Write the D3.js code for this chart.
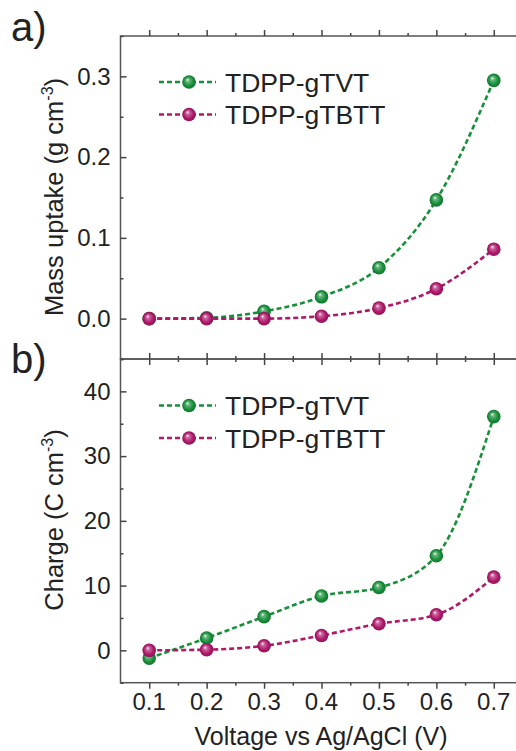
<!DOCTYPE html>
<html>
<head>
<meta charset="utf-8">
<script src="https://cdn.jsdelivr.net/npm/d3@7"></script>
<style>
  body { margin: 0; background: #fff; }
  text { font-family: "Liberation Sans", Arial, sans-serif; fill: #222; }
</style>
</head>
<body>
<div id="chart"></div>
<script>
const voltage = [0.1, 0.2, 0.3, 0.4, 0.5, 0.6, 0.7];
const seriesNames = ["TDPP-gTVT", "TDPP-gTBTT"];
const massTVT = [0.000, 0.001, 0.009, 0.027, 0.063, 0.147, 0.295];
const massTBTT = [0.000, 0.000, 0.000, 0.003, 0.013, 0.037, 0.086];
const chargeTVT = [-1.2, 1.9, 5.2, 8.4, 9.7, 14.6, 36.1];
const chargeTBTT = [0.0, 0.1, 0.7, 2.3, 4.1, 5.5, 11.3];
const massTicks = [0.0, 0.1, 0.2, 0.3];
const chargeTicks = [0, 10, 20, 30, 40];

const colors = ["#17903a", "#b0186b"];

const width = 516, height = 751;
const left = 120.5, right = 522.5;

const svg = d3.select("#chart").append("svg")
  .attr("width", width)
  .attr("height", height);

// sphere gradients
const defs = svg.append("defs");
colors.forEach((c, i) => {
  const g = defs.append("radialGradient")
    .attr("id", "ball" + i)
    .attr("cx", "0.5").attr("cy", "0.5").attr("r", "0.5")
    .attr("fx", "0.38").attr("fy", "0.32");
  g.append("stop").attr("offset", "0%").attr("stop-color", "#ffffff");
  g.append("stop").attr("offset", "25%").attr("stop-color", d3.interpolateRgb(c, "#fff")(0.35));
  g.append("stop").attr("offset", "70%").attr("stop-color", c);
  g.append("stop").attr("offset", "100%").attr("stop-color", d3.color(c).darker(0.6));
});

const x = d3.scaleLinear().domain([0.05, 0.75]).range([left, right]);

function panel(top, bottom, domain, ticks, series, fmt, legendY) {
  const y = d3.scaleLinear().domain(domain).range([bottom, top]);
  const g = svg.append("g");
  const step = ticks[1] - ticks[0];
  const minor = d3.range(domain[0], domain[1] + step / 4, step / 2)
    .filter(v => !ticks.some(t => Math.abs(t - v) < step / 10));
  const xMinor = d3.range(0.15, 0.75, 0.1);

  // frame
  g.append("rect")
    .attr("x", left).attr("y", top)
    .attr("width", right - left).attr("height", bottom - top)
    .attr("fill", "none").attr("stroke", "#555").attr("stroke-width", 1.5);

  // x ticks (inward, top and bottom)
  [[bottom, -1], [top, 1]].forEach(([yy, dir]) => {
    g.append("g").attr("transform", `translate(0,${yy})`)
      .call(d3.axisBottom(x).tickValues(voltage).tickSize(-6 * dir).tickFormat(""))
      .call(a => a.select(".domain").remove())
      .call(a => a.selectAll("line").attr("stroke", "#444").attr("stroke-width", 1.5));
    g.append("g").attr("transform", `translate(0,${yy})`)
      .call(d3.axisBottom(x).tickValues(xMinor).tickSize(-3 * dir).tickFormat(""))
      .call(a => a.select(".domain").remove())
      .call(a => a.selectAll("line").attr("stroke", "#444").attr("stroke-width", 1.5));
  });

  // y ticks left (with labels) and right
  g.append("g").attr("transform", `translate(${left},0)`)
    .call(d3.axisLeft(y).tickValues(ticks).tickSize(-6).tickPadding(10).tickFormat(fmt))
    .call(a => a.select(".domain").remove())
    .call(a => a.selectAll("line").attr("stroke", "#444").attr("stroke-width", 1.5))
    .call(a => a.selectAll("text").attr("font-size", 24).attr("fill", "#222")
      .attr("font-family", "Liberation Sans, Arial, sans-serif"));
  g.append("g").attr("transform", `translate(${left},0)`)
    .call(d3.axisLeft(y).tickValues(minor).tickSize(-3).tickFormat(""))
    .call(a => a.select(".domain").remove())
    .call(a => a.selectAll("line").attr("stroke", "#444").attr("stroke-width", 1.5));
  g.append("g").attr("transform", `translate(${right},0)`)
    .call(d3.axisRight(y).tickValues(ticks).tickSize(-6).tickFormat(""))
    .call(a => a.select(".domain").remove())
    .call(a => a.selectAll("line").attr("stroke", "#444").attr("stroke-width", 1.5));

  const line = d3.line()
    .curve(d3.curveMonotoneX)
    .x((d, i) => x(voltage[i]))
    .y(d => y(d));

  series.forEach((vals, s) => {
    g.append("path")
      .datum(vals)
      .attr("fill", "none")
      .attr("stroke", colors[s])
      .attr("stroke-width", 2.6)
      .attr("stroke-dasharray", "5,3")
      .attr("d", line);
  });
  series.forEach((vals, s) => {
    g.append("g").selectAll("circle")
      .data(vals)
      .join("circle")
      .attr("cx", (d, i) => x(voltage[i]))
      .attr("cy", d => y(d))
      .attr("r", 6.8)
      .attr("fill", `url(#ball${s})`);
  });

  // legend
  seriesNames.forEach((name, s) => {
    const ly = legendY + s * 32.5;
    g.append("line")
      .attr("x1", 159).attr("x2", 216).attr("y1", ly).attr("y2", ly)
      .attr("stroke", colors[s]).attr("stroke-width", 2.6)
      .attr("stroke-dasharray", "5,3");
    g.append("circle")
      .attr("cx", 189).attr("cy", ly).attr("r", 6.8)
      .attr("fill", `url(#ball${s})`);
    g.append("text")
      .attr("x", 225).attr("y", ly + 9.5)
      .attr("font-size", 26.5)
      .text(name);
  });
  return y;
}

panel(36, 359, [-0.05, 0.35], massTicks, [massTVT, massTBTT], d3.format(".1f"), 82);
panel(359, 682.7, [-5, 45], chargeTicks, [chargeTVT, chargeTBTT], d3.format("d"), 405.5);

// x tick labels
svg.append("g").selectAll("text")
  .data(voltage)
  .join("text")
  .attr("x", d => x(d))
  .attr("y", 710)
  .attr("text-anchor", "middle")
  .attr("font-size", 24)
  .text(d => d.toFixed(1));

// axis titles
svg.append("text")
  .attr("x", 321).attr("y", 745)
  .attr("text-anchor", "middle")
  .attr("font-size", 25)
  .text("Voltage vs Ag/AgCl (V)");

function yTitle(cx, cy, main) {
  const t = svg.append("text")
    .attr("transform", `translate(${cx},${cy}) rotate(-90)`)
    .attr("text-anchor", "middle")
    .attr("font-size", 25.5);
  t.append("tspan").text(main + " cm");
  t.append("tspan").attr("font-size", 16).attr("dy", -10).text("-3");
  t.append("tspan").attr("dy", 10).text(")");
}
yTitle(63, 197, "Mass uptake (g");
yTitle(63, 520, "Charge (C");

// panel labels
svg.append("text").attr("x", 11).attr("y", 41)
  .attr("font-family", "Open Sans, sans-serif").attr("font-size", 40).text("a)");
svg.append("text").attr("x", 11).attr("y", 373)
  .attr("font-family", "Open Sans, sans-serif").attr("font-size", 40).text("b)");
</script>
</body>
</html>
